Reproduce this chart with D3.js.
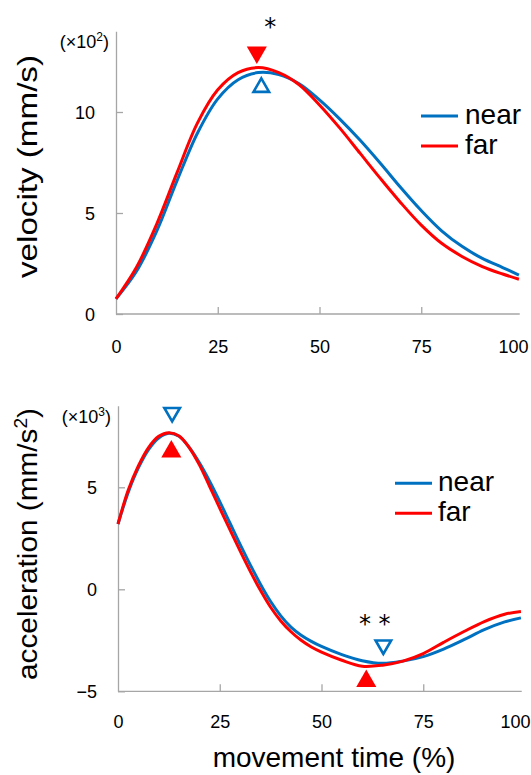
<!DOCTYPE html>
<html lang="en">
<head>
  <meta charset="UTF-8">
  <title>Velocity and acceleration profiles</title>
  <style>
    body { margin: 0; background: #fff; }
    text { font-family: "Liberation Sans", Arial, sans-serif; fill: #000; }
    .axis path, .axis line { stroke: #a6a6a6; stroke-width: 1.3px; }
    .axis text { font-size: 18px; }
    .curve { fill: none; stroke-width: 3px; }
    .star { font-family: "DejaVu Sans", sans-serif; }
  </style>
</head>
<body>
  <svg width="531" height="775"></svg>

  <script src="https://d3js.org/d3.v7.min.js"></script>
  <script>
    // movement time (%) sample points
    const velX = [0, 5, 10, 15, 20, 25, 30, 35, 40, 45, 50, 55, 60, 65, 70, 75, 80, 85, 90, 95, 99];
    // velocity, x10^2 mm/s
    const velNear = [0.75, 2.1, 4.1, 6.6, 8.95, 10.65, 11.6, 11.95, 11.85, 11.4, 10.6, 9.65, 8.6, 7.45, 6.25, 5.12, 4.12, 3.35, 2.75, 2.3, 1.93];
    const velFar  = [0.75, 2.3, 4.45, 7.0, 9.45, 11.1, 11.95, 12.2, 11.95, 11.35, 10.35, 9.2, 7.95, 6.7, 5.5, 4.4, 3.5, 2.85, 2.35, 1.98, 1.72];

    const accX = [0, 2.5, 5, 7.5, 10, 12.5, 15, 17.5, 20, 22.5, 25, 27.5, 30, 32.5, 35, 37.5, 40, 42.5, 45, 47.5, 50, 55, 60, 65, 70, 75, 80, 85, 90, 95, 99];
    // acceleration, x10^3 mm/s^2
    const accNear = [3.2, 4.75, 5.95, 6.85, 7.42, 7.65, 7.5, 6.95, 6.2, 5.3, 4.3, 3.25, 2.2, 1.2, 0.25, -0.6, -1.3, -1.85, -2.25, -2.55, -2.8, -3.2, -3.5, -3.63, -3.52, -3.3, -2.93, -2.47, -1.98, -1.6, -1.4];
    const accFar  = [3.2, 4.85, 6.05, 6.95, 7.5, 7.68, 7.52, 6.95, 6.1, 5.05, 3.98, 2.92, 1.88, 0.88, -0.05, -0.88, -1.55, -2.08, -2.5, -2.83, -3.08, -3.48, -3.77, -3.72, -3.52, -3.15, -2.6, -2.07, -1.58, -1.22, -1.09];

    const xTicks = [0, 25, 50, 75, 100];
    const velTicks = [0, 5, 10];
    const accTicks = [-5, 0, 5];

    // peak markers (triangles), and significance stars
    const velMarks = [
      { x: 34.6, y: 12.95, series: "far", down: true },
      { x: 35.7, y: 11.22, series: "near", down: false }
    ];
    const accMarks = [
      { x: 13.3, y: 8.67, series: "near", down: true },
      { x: 13.1, y: 6.75, series: "far", down: false },
      { x: 65.2, y: -2.73, series: "near", down: true },
      { x: 61.0, y: -4.5, series: "far", down: false }
    ];
    const velStars = [{ x: 37.9, y: 14.5, t: "*" }];
    const accStars = [{ x: 63.1, y: -1.41, t: "* *" }];

    const colors = { near: "#0070c0", far: "#ff0000" };

    const svg = d3.select("svg");

    // text with a superscript part: parts = [[str, sup?], ...]
    function richText(sel, parts, supSize) {
      parts.forEach(p => {
        const t = sel.append("tspan").text(p[0]);
        if (p[1]) t.attr("baseline-shift", "super").style("font-size", supSize);
      });
    }

    function panel(opt) {
      const x = d3.scaleLinear().domain([0, 100]).range(opt.xRange);
      const y = d3.scaleLinear().domain(opt.yDomain).range(opt.yRange);
      const g = svg.append("g");

      // y axis, ticks inside
      g.append("g")
        .attr("class", "axis")
        .attr("transform", `translate(${opt.xRange[0]},0)`)
        .call(d3.axisLeft(y).tickValues(opt.yTicks).tickSize(-7).tickSizeOuter(0).tickPadding(21))
        .call(a => a.selectAll(".tick text").attr("dy", "0.36em"));

      // x axis, ticks inside
      const xa = g.append("g")
        .attr("class", "axis")
        .attr("transform", `translate(0,${opt.yRange[0]})`)
        .call(d3.axisBottom(x).tickValues(xTicks).tickSize(-7).tickSizeOuter(0).tickPadding(opt.xPad));
      xa.select(".domain").attr("d", `M${x(0)},0H${x(99.2)}`);
      xa.selectAll(".tick line").filter(d => d === 0 || d === 100).remove();
      xa.selectAll(".tick text").filter(d => d === 100).attr("dx", -10);

      const line = d3.line()
        .x(d => x(d[0]))
        .y(d => y(d[1]))
        .curve(d3.curveCatmullRom.alpha(0.5));

      const series = [
        { name: "near", vals: opt.near },
        { name: "far", vals: opt.far }
      ];
      g.selectAll(".curve")
        .data(series)
        .join("path")
        .attr("class", "curve")
        .attr("stroke", d => colors[d.name])
        .attr("d", d => line(opt.xs.map((v, i) => [v, d.vals[i]])));

      // peak markers
      g.selectAll(".mark")
        .data(opt.marks)
        .join("path")
        .attr("class", "mark")
        .attr("d", d => d3.symbol(d3.symbolTriangle, d.series === "far" ? 175 : 105)())
        .attr("transform", d => `translate(${x(d.x)},${y(d.y)}) rotate(${d.down ? 180 : 0})`)
        .attr("fill", d => d.series === "far" ? colors.far : "#fff")
        .attr("stroke", d => colors[d.series])
        .attr("stroke-width", d => d.series === "far" ? 0 : 2.6);

      g.selectAll(".star")
        .data(opt.stars)
        .join("text")
        .attr("class", "star")
        .attr("x", d => x(d.x))
        .attr("y", d => y(d.y))
        .attr("dy", 14)
        .attr("text-anchor", "middle")
        .style("font-size", "24px")
        .text(d => d.t);

      // exponent label
      g.append("text")
        .attr("x", opt.xRange[0] - 7)
        .attr("y", opt.yRange[1] + 17)
        .attr("text-anchor", "end")
        .style("font-size", "18px")
        .call(richText, [["(×10"], [opt.exp, true], [")"]], "12px");

      // y title
      g.append("text")
        .attr("transform", `translate(37,${opt.titleY}) rotate(-90)`)
        .attr("text-anchor", "middle")
        .attr("textLength", opt.titleLen)
        .attr("lengthAdjust", "spacingAndGlyphs")
        .style("font-size", "28px")
        .call(richText, opt.title, "18px");

      // legend
      const leg = g.append("g")
        .attr("transform", `translate(${opt.legend[0]},${opt.legend[1]})`);
      series.forEach((s, i) => {
        leg.append("line")
          .attr("x1", 0).attr("x2", 37)
          .attr("y1", i * 30).attr("y2", i * 30)
          .attr("stroke", colors[s.name])
          .attr("stroke-width", 3);
        leg.append("text")
          .attr("x", opt.legendGap)
          .attr("y", i * 30 + 7.5)
          .style("font-size", "28px")
          .text(s.name);
      });
    }

    panel({
      xRange: [116, 523], yDomain: [0, 14], yRange: [314, 31.2],
      yTicks: velTicks, xPad: 26,
      xs: velX, near: velNear, far: velFar,
      marks: velMarks, stars: velStars,
      exp: "2",
      title: [["velocity (mm/s)"]], titleY: 166.5, titleLen: 223,
      legend: [421, 116], legendGap: 44
    });

    panel({
      xRange: [118, 525], yDomain: [-5, 9], yRange: [691.3, 405.7],
      yTicks: accTicks, xPad: 23.5,
      xs: accX, near: accNear, far: accFar,
      marks: accMarks, stars: accStars,
      exp: "3",
      title: [["acceleration (mm/s"], ["2", true], [")"]], titleY: 544, titleLen: 272,
      legend: [395, 483.3], legendGap: 43
    });

    svg.append("text")
      .attr("x", 334)
      .attr("y", 767)
      .attr("text-anchor", "middle")
      .style("font-size", "28px")
      .text("movement time (%)");
  </script>
</body>
</html>
